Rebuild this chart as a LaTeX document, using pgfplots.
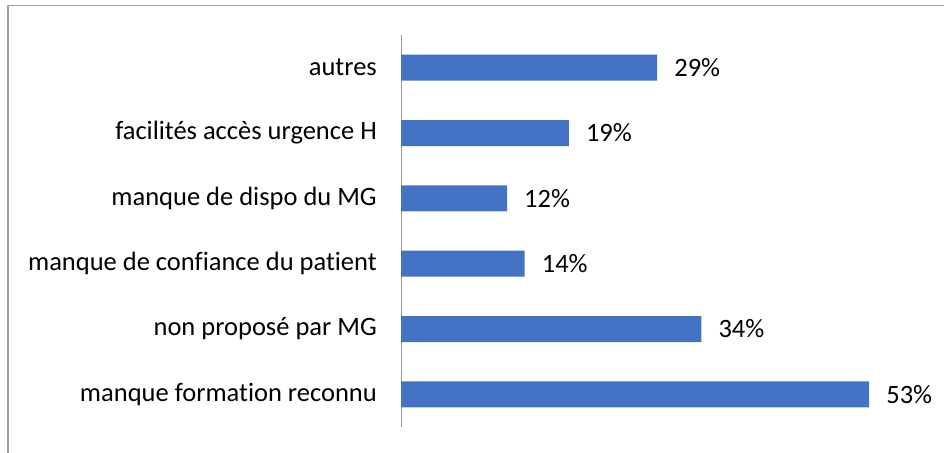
\documentclass[border=0pt]{standalone}
\usepackage{fontspec}
\setmainfont[Ligatures={NoCommon}]{Carlito}
\usepackage{pgfplots}
\pgfplotsset{compat=1.18}
\definecolor{barblue}{HTML}{4472C4}
\definecolor{axgray}{RGB}{150,150,150}
\definecolor{framegray}{RGB}{160,160,160}
\begin{document}
\begin{tikzpicture}[x=1pt,y=1pt]
\useasboundingbox (0,0) rectangle (944,-452);
\draw[framegray, line width=1.5pt] (8,-460) -- (8,-5.5) -- (950,-5.5);
\begin{axis}[
  at={(401pt,-427pt)}, anchor=south west,
  scale only axis, width=530pt, height=392pt,
  xmin=0, xmax=60, ymin=-0.5, ymax=5.5,
  axis x line=none,
  axis y line*=left,
  y axis line style={axgray, line width=1pt, -},
  xbar, bar width=26pt,
  /pgf/number format/assume math mode=true,
  ytick={0,1,2,3,4,5},
  yticklabels={manque formation reconnu, non proposé par MG, manque de confiance du patient, manque de dispo du MG, facilités accès urgence H, autres},
  major tick length=0pt,
  yticklabel style={font=\fontsize{26.5}{30}\selectfont, anchor=east, inner sep=0pt, xshift=-24pt},
  point meta=x,
  nodes near coords={\pgfmathprintnumber{\pgfplotspointmeta}\%},
  nodes near coords style={font=\fontsize{26.5}{30}\selectfont, anchor=west, inner sep=0pt, xshift=17pt},
  clip=false,
]
\addplot[draw=none, fill=barblue] coordinates {(53,0) (34,1) (14,2) (12,3) (19,4) (29,5)};
\end{axis}
\end{tikzpicture}
\end{document}
